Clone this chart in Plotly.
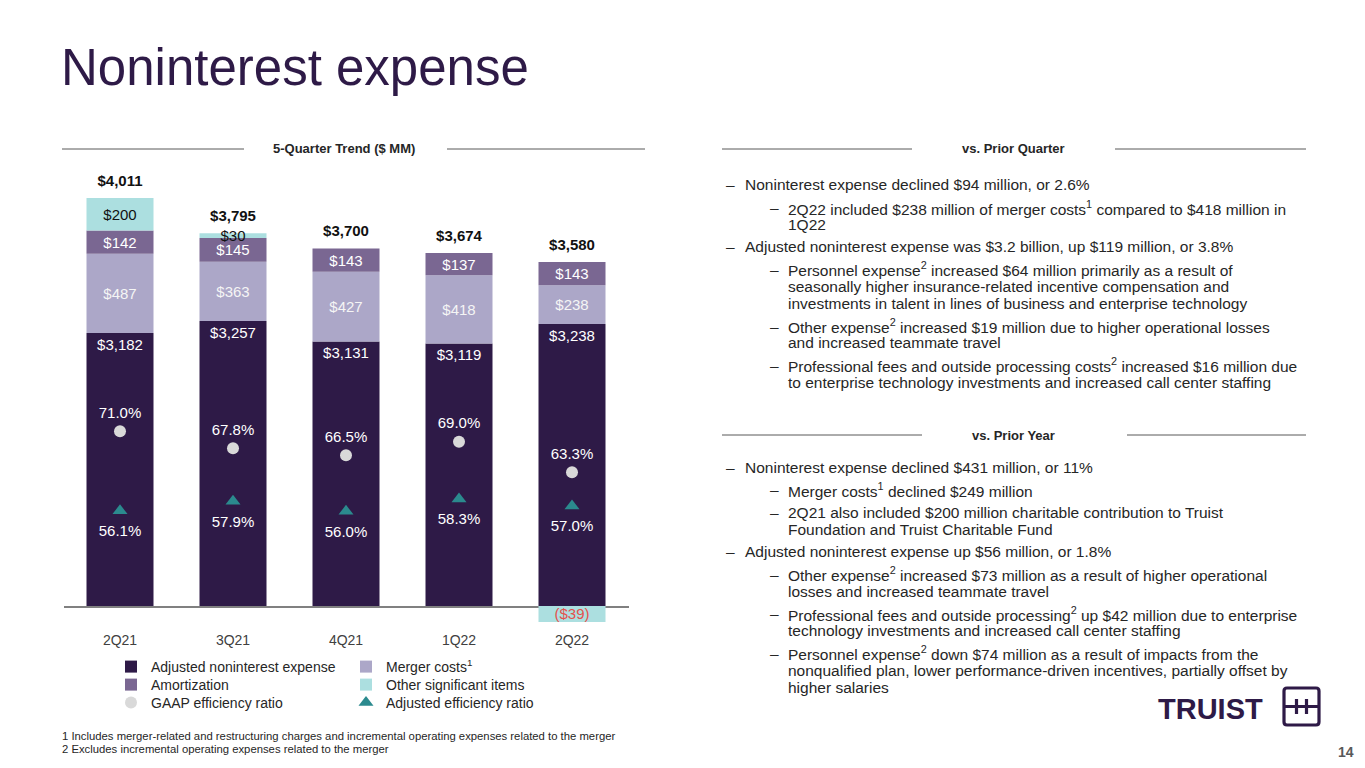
import plotly.graph_objects as go

# ------------------------------------------------------------
# data ($ MM, %)
# ------------------------------------------------------------
quarters = ["2Q21", "3Q21", "4Q21", "1Q22", "2Q22"]
adjusted_expense = [3182, 3257, 3131, 3119, 3238]
merger_costs = [487, 363, 427, 418, 238]
amortization = [142, 145, 143, 137, 143]
other_items = [200, 30, 0, 0, -39]
total_expense = [4011, 3795, 3700, 3674, 3580]
gaap_ratio = [71.0, 67.8, 66.5, 69.0, 63.3]
adjusted_ratio = [56.1, 57.9, 56.0, 58.3, 57.0]

prior_quarter = [
    (1, ["Noninterest expense declined $94 million, or 2.6%"]),
    (2, ["2Q22 included $238 million of merger costs<sup>1</sup> compared to $418 million in",
         "1Q22"]),
    (1, ["Adjusted noninterest expense was $3.2 billion, up $119 million, or 3.8%"]),
    (2, ["Personnel expense<sup>2</sup> increased $64 million primarily as a result of",
         "seasonally higher insurance-related incentive compensation and",
         "investments in talent in lines of business and enterprise technology"]),
    (2, ["Other expense<sup>2</sup> increased $19 million due to higher operational losses",
         "and increased teammate travel"]),
    (2, ["Professional fees and outside processing costs<sup>2</sup> increased $16 million due",
         "to enterprise technology investments and increased call center staffing"]),
]
prior_year = [
    (1, ["Noninterest expense declined $431 million, or 11%"]),
    (2, ["Merger costs<sup>1</sup> declined $249 million"]),
    (2, ["2Q21 also included $200 million charitable contribution to Truist",
         "Foundation and Truist Charitable Fund"]),
    (1, ["Adjusted noninterest expense up $56 million, or 1.8%"]),
    (2, ["Other expense<sup>2</sup> increased $73 million as a result of higher operational",
         "losses and increased teammate travel"]),
    (2, ["Professional fees and outside processing<sup>2</sup> up $42 million due to enterprise",
         "technology investments and increased call center staffing"]),
    (2, ["Personnel expense<sup>2</sup> down $74 million as a result of impacts from the",
         "nonqualified plan, lower performance-driven incentives, partially offset by",
         "higher salaries"]),
]
footnotes = [
    "1 Includes merger-related and restructuring charges and incremental operating expenses related to the merger",
    "2 Excludes incremental operating expenses related to the merger",
]

# ------------------------------------------------------------
# look
# ------------------------------------------------------------
W, H = 1365, 768
FONT = "Liberation Sans, Arial, sans-serif"
PURPLE = "#2e1a47"
LAVENDER = "#aca7c8"
MAUVE = "#7a6792"
AQUA = "#acdfe0"
TEAL = "#2b8a8e"
GREY_DOT = "#d9d9d9"
TXT = "#262626"


def px(x):
    return x / W


def py(y):
    return 1 - y / H


def money(v):
    if v > 0:
        return f"${v:,}"
    if v < 0:
        return f"(${-v:,})"
    return ""


other_pos = [v if v > 0 else None for v in other_items]
other_neg = [v if v < 0 else None for v in other_items]
stack_top = [a + m + am + max(o, 0) for a, m, am, o in
             zip(adjusted_expense, merger_costs, amortization, other_items)]

fig = go.Figure()

# legend rows: (adjusted, merger) / (amortization, other) / (gaap, adjusted ratio)
fig.add_trace(go.Bar(
    x=quarters, y=adjusted_expense, name="Adjusted noninterest expense",
    marker=dict(color=PURPLE, line=dict(width=0)),
    text=[money(v) for v in adjusted_expense], textposition="inside",
    insidetextanchor="end", textfont=dict(color="white", size=15),
    legend="legend", hoverinfo="skip",
))
fig.add_trace(go.Bar(
    x=quarters, y=merger_costs, name="Merger costs<sup>1</sup>",
    marker=dict(color=LAVENDER, line=dict(width=0)),
    text=[money(v) for v in merger_costs], textposition="inside",
    insidetextanchor="middle", textfont=dict(color="#f5f5f5", size=15),
    legend="legend", hoverinfo="skip",
))
fig.add_trace(go.Bar(
    x=quarters, y=amortization, name="Amortization",
    marker=dict(color=MAUVE, line=dict(width=0)),
    text=[money(v) for v in amortization], textposition="inside",
    insidetextanchor="middle", textfont=dict(color="white", size=15),
    legend="legend2", hoverinfo="skip",
))
fig.add_trace(go.Bar(
    x=quarters, y=other_pos, name="Other significant items",
    marker=dict(color=AQUA, line=dict(width=0)),
    text=[money(v) if v else "" for v in other_pos], textposition="inside",
    insidetextanchor="middle", textfont=dict(color="#111111", size=15),
    legend="legend2", hoverinfo="skip",
))
# negative part of other items sits below the zero line
fig.add_trace(go.Bar(
    x=quarters, y=other_neg, yaxis="y3", showlegend=False,
    marker=dict(color=AQUA, line=dict(width=0)),
    text=[money(v) if v else "" for v in other_neg], textposition="inside",
    insidetextanchor="middle", textfont=dict(color="#e5504c", size=15),
    hoverinfo="skip",
))

# totals above the stacks
fig.add_trace(go.Scatter(
    x=quarters, y=stack_top, mode="markers+text", showlegend=False,
    marker=dict(size=12, opacity=0), text=[money(v) for v in total_expense],
    textposition="top center", cliponaxis=False,
    textfont=dict(color="#111111", size=15, weight="bold"), hoverinfo="skip",
))

# efficiency ratios
fig.add_trace(go.Scatter(
    x=quarters, y=gaap_ratio, yaxis="y2", mode="markers",
    name="GAAP efficiency ratio", legend="legend3",
    marker=dict(symbol="circle", size=12, color=GREY_DOT), hoverinfo="skip",
))
fig.add_trace(go.Scatter(
    x=quarters, y=adjusted_ratio, yaxis="y2", mode="markers",
    name="Adjusted efficiency ratio", legend="legend3",
    marker=dict(symbol="triangle-up", size=13, color=TEAL), hoverinfo="skip",
))
fig.add_trace(go.Scatter(
    x=quarters, y=gaap_ratio, yaxis="y2", mode="markers+text", showlegend=False,
    marker=dict(size=14, opacity=0), text=[f"{v:.1f}%" for v in gaap_ratio],
    textposition="top center", textfont=dict(color="white", size=15),
    cliponaxis=False, hoverinfo="skip",
))
fig.add_trace(go.Scatter(
    x=quarters, y=adjusted_ratio, yaxis="y2", mode="markers+text", showlegend=False,
    marker=dict(size=21, opacity=0), text=[f"{v:.1f}%" for v in adjusted_ratio],
    textposition="bottom center", textfont=dict(color="white", size=15),
    cliponaxis=False, hoverinfo="skip",
))

# ------------------------------------------------------------
# text blocks
# ------------------------------------------------------------
ann = []
ann.append(dict(x=px(59), y=py(68), text="Noninterest expense", xanchor="left",
                yanchor="middle", font=dict(size=51, color=PURPLE)))


def header(text, xc, y, x0, x1, gap_l, gap_r):
    ann.append(dict(x=px(xc), y=py(y), text=f"<b>{text}</b>", xanchor="center",
                    yanchor="middle", font=dict(size=13, color=TXT)))
    fig.add_shape(type="line", xref="paper", yref="paper", x0=px(x0), x1=px(gap_l),
                  y0=py(y), y1=py(y), line=dict(color="#595959", width=1))
    fig.add_shape(type="line", xref="paper", yref="paper", x0=px(gap_r), x1=px(x1),
                  y0=py(y), y1=py(y), line=dict(color="#595959", width=1))


header("5-Quarter Trend ($ MM)", 344, 149, 62, 645, 244, 447)
header("vs. Prior Quarter", 1013, 149, 722, 1306, 912, 1115)
header("vs. Prior Year", 1013, 435, 722, 1306, 922, 1127)


def bullets(items, y):
    for level, lines in items:
        dash_x = 724 if level == 1 else 768
        text_x = 743 if level == 1 else 786
        ann.append(dict(x=px(dash_x), y=py(y), text="\u2013", xanchor="left",
                        yanchor="middle", font=dict(size=15.5, color=TXT)))
        for line in lines:
            ann.append(dict(x=px(text_x), y=py(y), text=line, xanchor="left",
                            yanchor="middle", font=dict(size=15.5, color=TXT)))
            y += 17
        y += 5.5


bullets(prior_quarter, 185)
bullets(prior_year, 467)

for i, note in enumerate(footnotes):
    ann.append(dict(x=px(60), y=py(736 + 13 * i), text=note, xanchor="left",
                    yanchor="middle", font=dict(size=11.3, color=TXT)))

ann.append(dict(x=px(1156), y=py(709), text="<b>TRUIST</b>", xanchor="left",
                yanchor="middle", font=dict(size=29, color=PURPLE)))
ann.append(dict(x=px(1356), y=py(752), text="<b>14</b>", xanchor="right",
                yanchor="middle", font=dict(size=14, color="#595959")))

for a in ann:
    a.update(xref="paper", yref="paper", showarrow=False)

# logo mark
logo = dict(xref="paper", yref="paper", line=dict(color=PURPLE, width=3.2))
fig.add_shape(type="path", path=(
    f"M {px(1287)},{py(688)} L {px(1316)},{py(688)} Q {px(1319)},{py(688)} {px(1319)},{py(691)} "
    f"L {px(1319)},{py(722)} Q {px(1319)},{py(725)} {px(1316)},{py(725)} "
    f"L {px(1287)},{py(725)} Q {px(1284)},{py(725)} {px(1284)},{py(722)} "
    f"L {px(1284)},{py(691)} Q {px(1284)},{py(688)} {px(1287)},{py(688)} Z"), **logo)
fig.add_shape(type="line", x0=px(1284), x1=px(1319), y0=py(706.5), y1=py(706.5), **logo)
fig.add_shape(type="line", x0=px(1296.5), x1=px(1296.5), y0=py(699), y1=py(714), **logo)
fig.add_shape(type="line", x0=px(1306.5), x1=px(1306.5), y0=py(699), y1=py(714), **logo)

legend_style = dict(orientation="h", xanchor="left", yanchor="top",
                    traceorder="normal", bgcolor="rgba(0,0,0,0)",
                    entrywidth=190, entrywidthmode="pixels",
                    font=dict(size=14, color=TXT, family=FONT),
                    itemclick=False, itemdoubleclick=False, tracegroupgap=0)

fig.update_layout(
    width=W, height=H, margin=dict(l=0, r=0, t=0, b=0),
    paper_bgcolor="white", plot_bgcolor="rgba(0,0,0,0)",
    font=dict(family=FONT, color=TXT),
    barmode="relative", bargap=0.407,
    uniformtext=dict(minsize=15, mode="show"),
    showlegend=True,
    legend=dict(x=px(111), y=py(651), **legend_style),
    legend2=dict(x=px(111), y=py(669), **legend_style),
    legend3=dict(x=px(111), y=py(687), **legend_style),
    xaxis=dict(domain=[px(63.5), px(628.5)], anchor="y", showgrid=False,
               showline=True, linecolor="#808080", linewidth=1.5,
               ticks="outside", ticklen=20, tickcolor="rgba(0,0,0,0)",
               tickfont=dict(size=14, color="#404040"), fixedrange=True),
    yaxis=dict(domain=[py(606), py(190)], range=[1508, 4060], visible=False,
               fixedrange=True),
    yaxis2=dict(overlaying="y", range=[38.3, 116.1], visible=False,
                fixedrange=True),
    yaxis3=dict(domain=[py(632), py(606)], range=[-63.4, 0], anchor="x",
                visible=False, fixedrange=True),
    annotations=ann,
)

fig.write_html("out.html", config={"displayModeBar": False},
               post_script="document.body.style.margin='0';")
